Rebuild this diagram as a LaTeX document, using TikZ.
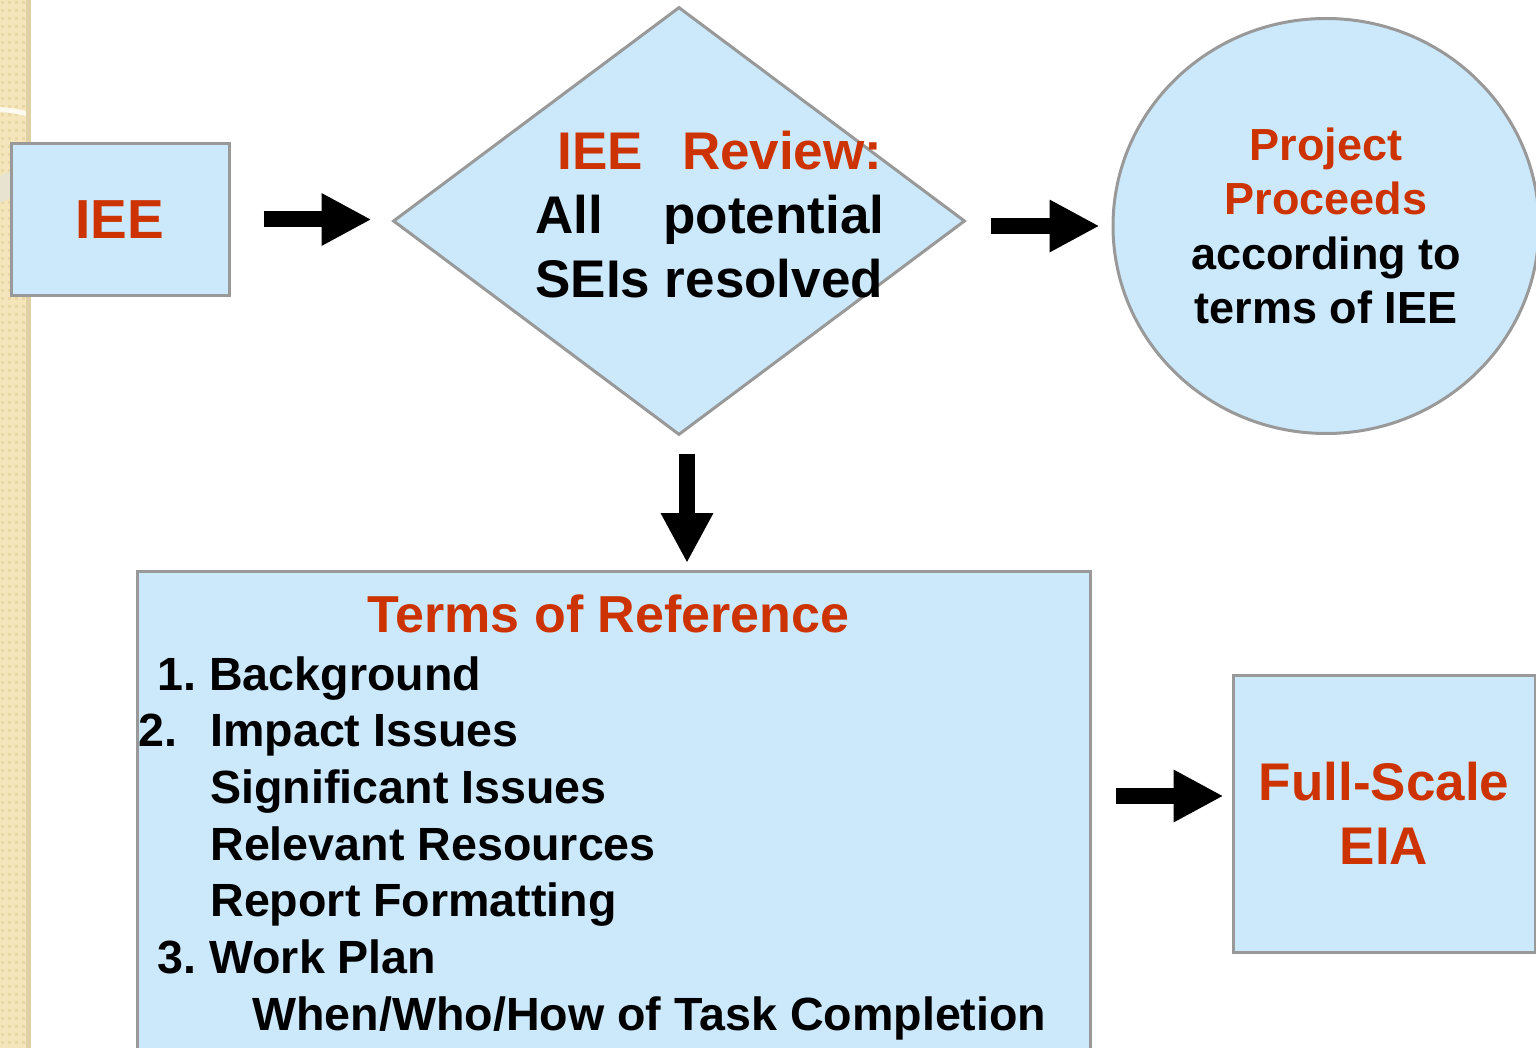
\documentclass[tikz,border=0pt]{standalone}
\usepackage{fontspec}
\setmainfont{Liberation Sans}
\usepackage{tikz}
\usetikzlibrary{shapes.geometric, arrows.meta, positioning, calc}
\definecolor{boxblue}{RGB}{204,233,252}
\definecolor{boxline}{RGB}{153,153,153}
\definecolor{rust}{RGB}{204,51,0}
\definecolor{paper}{RGB}{244,229,186}
\definecolor{paperdot}{RGB}{233,215,166}
\definecolor{paperedge}{RGB}{224,208,166}
\definecolor{paperband}{RGB}{232,226,208}

\begin{document}
\begin{tikzpicture}[
    x=0.5pt, y=-0.5pt,
    font=\bfseries,
    box/.style={rectangle, draw=boxline, fill=boxblue, line width=1.5pt, inner sep=0pt},
    hot/.style={text=rust},
    flow/.style={line width=8pt, -{Triangle[length=25pt, width=24.5pt]}},
]
\useasboundingbox (0,0) rectangle (1536,1048);
\clip (0,0) rectangle (1536,1048);

% Side strip
\fill[paper] (0,0) rectangle (31,1048);
\foreach \r in {0,...,131}
  \foreach \c in {0,...,3}
    \fill[paperdot] (\c*7+1,\r*8+1) rectangle ++(3,3);
\fill[white!75!paper] (0,107) .. controls (12,108) .. (26,111) -- (26,116) .. controls (12,113) .. (0,112) -- cycle;
\fill[paperband] (0,176) .. controls (12,170) .. (26,164) -- (26,192) .. controls (12,197) .. (0,203) -- cycle;
\fill[paperedge] (26,0) rectangle (31,1048);

% Boxes
\node[box, minimum width=109pt, minimum height=75.5pt, hot, font=\bfseries\fontsize{27.5}{33}\selectfont] (iee) at (120,219.5) {IEE};
\node[box, diamond, minimum width=286pt, minimum height=214pt] (review) at (679,221) {};
\node[box, ellipse, minimum width=213pt, minimum height=207.5pt, align=center,
      font=\bfseries\fontsize{22.5}{27.2}\selectfont] (proj) at (1326,226)
      {\textcolor{rust}{Project}\\\textcolor{rust}{Proceeds}\\according to\\terms of IEE};
\node[box, anchor=north west, minimum width=476.5pt, minimum height=260pt] (tor) at (136,570) {};
\node[box, minimum width=151pt, minimum height=138.5pt, hot, align=center,
      font=\bfseries\fontsize{26.5}{32}\selectfont] (fse) at (1384,813.5) {Full-Scale\\EIA};

% Texts
\node[anchor=north west, inner sep=0pt, align=left, font=\bfseries\fontsize{26.5}{32}\selectfont] (revtxt) at (535,131)
    {\hspace*{11pt}\makebox[162.5pt][s]{\color{rust}IEE Review:}\\
     \makebox[174.5pt][s]{All potential}\\
     SEIs resolved};
\node[anchor=base, inner sep=0pt, hot, font=\bfseries\fontsize{26}{31}\selectfont] (tortitle) at (608.5,632) {Terms of Reference};
\node[anchor=north west, inner sep=0pt, align=left, font=\bfseries\fontsize{23.3}{28.35}\selectfont] (toritems) at (138,656)
    {\hspace*{9.5pt}1.\hspace{6.5pt}Background\\
     2.\hspace{16.5pt}Impact Issues\\
     \hspace*{36pt}Significant Issues\\
     \hspace*{36pt}Relevant Resources\\
     \hspace*{36pt}Report Formatting\\
     \hspace*{9.5pt}3.\hspace{6.5pt}Work Plan\\
     \hspace*{57pt}When/Who/How of Task Completion};

% Edges
\coordinate (fsein) at ($(fse.west)+(0,-17.5)$);
\draw[flow, shorten <=16.5pt, shorten >=10pt] (iee.east) -- (iee.east -| review.west);
\draw[flow, shorten <=12pt, shorten >=6pt] (proj.west -| review.east) -- (proj.west);
\draw[flow, shorten <=8.5pt, shorten >=3.5pt] ([xshift=4pt]review.south) -- ([xshift=4pt]review.south |- tor.north);
\draw[flow, shorten <=12pt, shorten >=4pt] (fsein -| tor.east) -- (fsein);

\end{tikzpicture}
\end{document}
